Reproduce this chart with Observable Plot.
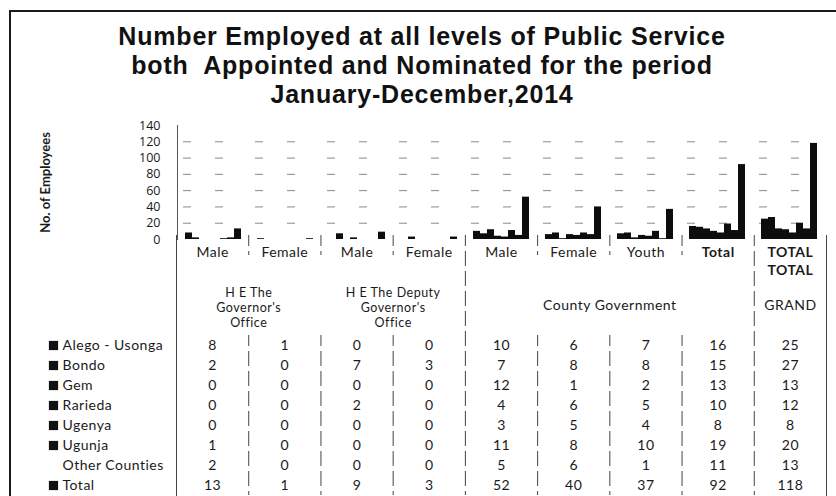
<!DOCTYPE html>
<html>
<head>
<meta charset="utf-8">
<script src="https://cdn.jsdelivr.net/npm/d3@7"></script>
<script src="https://cdn.jsdelivr.net/npm/@observablehq/plot@0.6"></script>
<style>
  html, body { margin: 0; padding: 0; background: #fff; width: 836px; height: 496px; overflow: hidden; }
  #border { position: absolute; left: 9px; top: 10px; width: 900px; height: 600px;
            border-left: 2px solid #1a1a1a; border-top: 2px solid #1a1a1a; }
  #title { position: absolute; left: 0; top: 22px; width: 844px; text-align: center;
           font-family: "Liberation Sans", Arial, sans-serif; font-weight: 700; font-size: 25px;
           letter-spacing: 0.8px; line-height: 29px; color: #111; }
  #chart { position: absolute; left: 0; top: 110px; }
  #table { position: absolute; left: 0; top: 235px; }
  svg { overflow: visible; }
  g[aria-label="y-axis label"] text { font-family: Lato, sans-serif; font-weight: 700; font-size: 13px; }
</style>
</head>
<body>
<div id="border"></div>
<div id="title">Number Employed at all levels of Public Service<br>both&nbsp; Appointed and Nominated for the period<br>January-December,2014</div>
<div id="chart"></div>
<div id="table"></div>
<script>
// ---- data ----
const categories = ["Gov Male", "Gov Female", "Deputy Male", "Deputy Female",
                    "County Male", "County Female", "County Youth", "County Total", "Grand Total"];
const categoryLabels = ["Male", "Female", "Male", "Female", "Male", "Female", "Youth", "Total", "TOTAL"];
const categoryLabels2 = ["", "", "", "", "", "", "", "", "TOTAL"];
const groupLabels = ["H E The\nGovernor's\nOffice", "H E The Deputy\nGovernor's\nOffice", "County Government", "GRAND"];
const groupSpans = [2, 2, 4, 1];
const seriesNames = ["Alego - Usonga", "Bondo", "Gem", "Rarieda", "Ugenya", "Ugunja", "Other Counties", "Total"];
const alegoUsonga   = [8, 1, 0, 0, 10, 6, 7, 16, 25];
const bondo         = [2, 0, 7, 3, 7, 8, 8, 15, 27];
const gem           = [0, 0, 0, 0, 12, 1, 2, 13, 13];
const rarieda       = [0, 0, 2, 0, 4, 6, 5, 10, 12];
const ugenya        = [0, 0, 0, 0, 3, 5, 4, 8, 8];
const ugunja        = [1, 0, 0, 0, 11, 8, 10, 19, 20];
const otherCounties = [2, 0, 0, 0, 5, 6, 1, 11, 13];
const totals        = [13, 1, 9, 3, 52, 40, 37, 92, 118];
const yTicks = [0, 20, 40, 60, 80, 100, 120, 140];

// ---- derived tables ----
const seriesValues = [alegoUsonga, bondo, gem, rarieda, ugenya, ugunja, otherCounties, totals];
const cells = seriesNames.flatMap((s, si) =>
  categories.map((c, ci) => ({series: s, cat: c, col: ci, value: seriesValues[si][ci]})));

const groupStarts = groupSpans.map((n, i) => d3.sum(groupSpans.slice(0, i)));
const groups = groupLabels.map((label, i) => ({label, center: groupStarts[i] + groupSpans[i] / 2, lines: label.split("\n").length}));

const headerRows = ["cat2", "gap1", "grp", "gap2"];
const rowKeys = ["cat", ...headerRows, ...seriesNames];
const innerEdges = d3.range(1, categories.length);
const countyEdges = [groupStarts[2], groupStarts[3]];
const rules = [
  ...innerEdges.map(x => ({x, row: "cat"})),
  ...headerRows.flatMap(row => countyEdges.map(x => ({x, row}))),
  ...seriesNames.flatMap(row => innerEdges.map(x => ({x, row})))
];

const ink = "#1a1a1a";

// ---- chart ----
const chart = Plot.plot({
  width: 836,
  height: 130,
  marginLeft: 176,
  marginRight: 10,
  marginTop: 15,
  marginBottom: 1,
  style: {fontFamily: "'Open Sans', sans-serif", fontSize: "12px", color: ink, background: "transparent"},
  fx: {domain: categories, paddingInner: 0.17, paddingOuter: 0.083, axis: null},
  x: {domain: seriesNames, padding: 0, axis: null},
  y: {domain: [0, 140]},
  marks: [
    Plot.gridY(yTicks.filter(t => t > 0 && t < 140), {stroke: "#8a8a8a", strokeOpacity: 1, strokeDasharray: "8,24"}),
    Plot.barY(cells, {fx: "cat", x: "series", y: "value", fill: "#0d0d0d"}),
    Plot.axisY(yTicks, {tickSize: 0, tickPadding: 23, fontSize: 12.5,
      label: "No. of Employees", labelAnchor: "center", labelArrow: "none", labelOffset: 143}),
    Plot.frame({anchor: "left", facetAnchor: "left", insetLeft: -6, stroke: "#555"})
  ]
});
document.getElementById("chart").append(chart);

// ---- data table ----
const table = Plot.plot({
  width: 836,
  height: 261,
  marginLeft: 176,
  marginRight: 10,
  marginTop: 0,
  marginBottom: 1,
  style: {fontFamily: "Lato, sans-serif", fontSize: "14px", letterSpacing: "0.5px", color: ink, background: "transparent"},
  x: {domain: [0, categories.length], axis: null},
  y: {domain: rowKeys, padding: 0, axis: null},
  marks: [
    Plot.frame({anchor: "left", stroke: "#444"}),
    Plot.frame({anchor: "right", stroke: "#444"}),
    Plot.tickX(rules, {x: "x", y: "row", stroke: "#444", strokeDasharray: "11,5"}),
    Plot.text(categoryLabels, {x: (d, i) => i + 0.5, y: () => "cat", dy: 7, filter: (d, i) => i < 7}),
    Plot.text(categoryLabels, {x: (d, i) => i + 0.5, y: () => "cat", dy: 7, fontWeight: "bold", filter: (d, i) => i >= 7}),
    Plot.text(categoryLabels2, {x: (d, i) => i + 0.5, y: () => "cat2", dy: 5, fontWeight: "bold"}),
    Plot.text(groups, {x: "center", y: () => "grp", text: "label", fontSize: 12.5, lineHeight: 1.2, dy: 2, filter: d => d.lines > 1}),
    Plot.text(groups, {x: "center", y: () => "grp", text: "label", filter: d => d.lines === 1}),
    Plot.dot(seriesNames, {y: d => d, frameAnchor: "left", dx: -123, symbol: "square", r: 5.2, fill: "#111",
      filter: d => d !== "Other Counties"}),
    Plot.text(seriesNames, {y: d => d, frameAnchor: "left", textAnchor: "start", dx: -114}),
    Plot.text(cells, {x: d => d.col + 0.5, y: "series", text: d => String(d.value)})
  ]
});
document.getElementById("table").append(table);
</script>
</body>
</html>
